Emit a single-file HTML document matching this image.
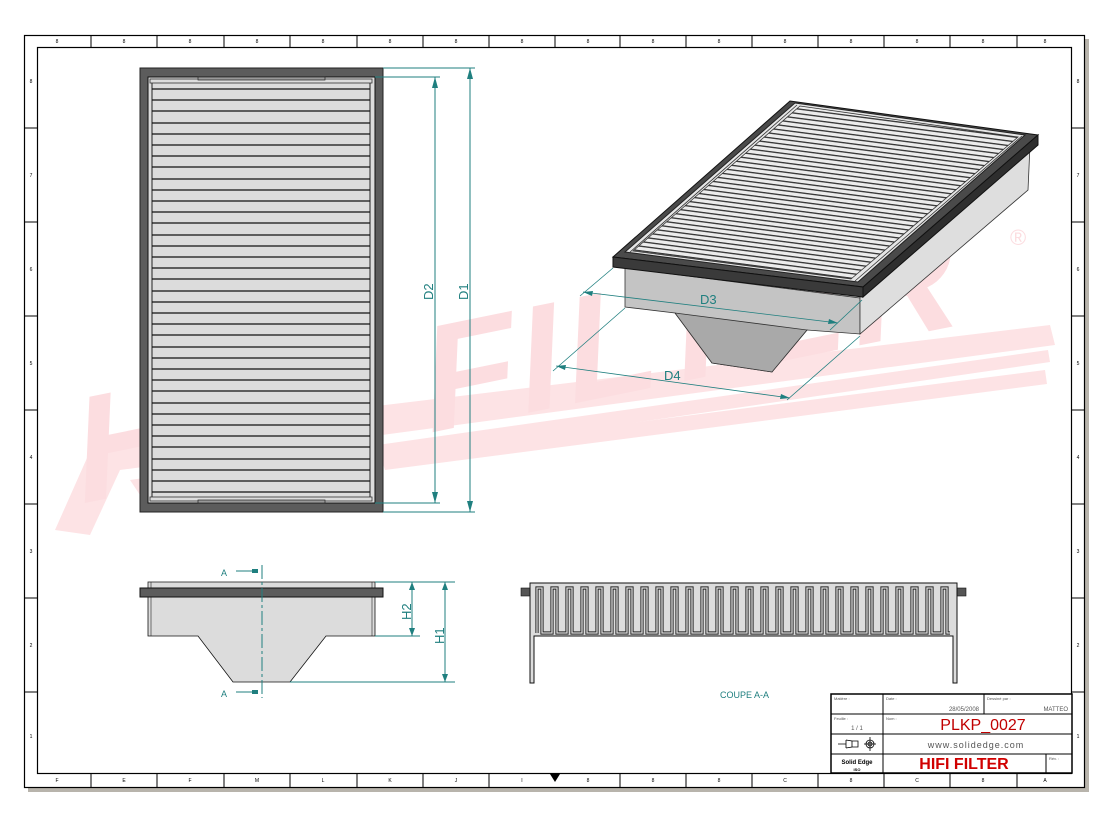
<!DOCTYPE html>
<html><head><meta charset="utf-8"><style>
html,body{margin:0;padding:0;background:#fff;}
svg{display:block;font-family:"Liberation Sans",sans-serif;}
</style></head><body>
<svg width="1112" height="821" viewBox="0 0 1112 821" xmlns="http://www.w3.org/2000/svg">
<defs>
<pattern id="sl" width="40" height="4.6" patternUnits="userSpaceOnUse" patternTransform="rotate(7.4)">
<rect width="40" height="4.6" fill="#ececec"/><rect y="0" width="40" height="1.3" fill="#333"/>
</pattern>
<clipPath id="gc"><polygon points="633,251 800,106 1018,137 851,279"/></clipPath>
</defs>
<rect width="1112" height="821" fill="#fff"/>
<!-- shadow -->
<rect x="28" y="788" width="1061" height="4" fill="#b8b4ac"/>
<rect x="1085" y="39" width="4" height="753" fill="#b8b4ac"/>
<!-- watermark -->
<g fill="#fde3e5">
<polygon points="55,530 95,440 1050,325 1055,345 120,470 90,535"/>
<polygon points="130,480 1048,350 1050,362 140,495"/>
<polygon points="380,455 1045,370 1047,384 385,470"/>
</g>
<text transform="translate(75,505) rotate(-11.5) skewX(-14)" font-size="150" font-weight="bold" fill="#fcdde0" letter-spacing="6">HIFI FILTER</text>
<text x="1010" y="245" font-size="22" fill="#fcdde0">®</text>
<!-- border -->
<rect x="24.5" y="35.5" width="1060" height="752" fill="none" stroke="#000" stroke-width="1.2"/>
<rect x="37.5" y="47.5" width="1034" height="726" fill="none" stroke="#000" stroke-width="1.2"/>
<g stroke="#000" stroke-width="1">
<line x1="91" y1="35" x2="91" y2="47"/><line x1="157" y1="35" x2="157" y2="47"/><line x1="224" y1="35" x2="224" y2="47"/><line x1="290" y1="35" x2="290" y2="47"/><line x1="357" y1="35" x2="357" y2="47"/><line x1="423" y1="35" x2="423" y2="47"/><line x1="489" y1="35" x2="489" y2="47"/><line x1="555" y1="35" x2="555" y2="47"/><line x1="620" y1="35" x2="620" y2="47"/><line x1="686" y1="35" x2="686" y2="47"/><line x1="752" y1="35" x2="752" y2="47"/><line x1="818" y1="35" x2="818" y2="47"/><line x1="884" y1="35" x2="884" y2="47"/><line x1="950" y1="35" x2="950" y2="47"/><line x1="1017" y1="35" x2="1017" y2="47"/>
<line x1="91" y1="774" x2="91" y2="788"/><line x1="157" y1="774" x2="157" y2="788"/><line x1="224" y1="774" x2="224" y2="788"/><line x1="290" y1="774" x2="290" y2="788"/><line x1="357" y1="774" x2="357" y2="788"/><line x1="423" y1="774" x2="423" y2="788"/><line x1="489" y1="774" x2="489" y2="788"/><line x1="620" y1="774" x2="620" y2="788"/><line x1="686" y1="774" x2="686" y2="788"/><line x1="752" y1="774" x2="752" y2="788"/><line x1="818" y1="774" x2="818" y2="788"/><line x1="884" y1="774" x2="884" y2="788"/><line x1="950" y1="774" x2="950" y2="788"/><line x1="1017" y1="774" x2="1017" y2="788"/>
<line x1="24" y1="128" x2="37" y2="128"/><line x1="24" y1="222" x2="37" y2="222"/><line x1="24" y1="316" x2="37" y2="316"/><line x1="24" y1="410" x2="37" y2="410"/><line x1="24" y1="504" x2="37" y2="504"/><line x1="24" y1="598" x2="37" y2="598"/><line x1="24" y1="692" x2="37" y2="692"/>
<line x1="1072" y1="128" x2="1085" y2="128"/><line x1="1072" y1="222" x2="1085" y2="222"/><line x1="1072" y1="316" x2="1085" y2="316"/><line x1="1072" y1="410" x2="1085" y2="410"/><line x1="1072" y1="504" x2="1085" y2="504"/><line x1="1072" y1="598" x2="1085" y2="598"/><line x1="1072" y1="692" x2="1085" y2="692"/>
</g>
<polygon points="550,774 560,774 555,782" fill="#000"/>
<g font-size="5" fill="#000" text-anchor="middle">
<text x="57" y="43">8</text><text x="124" y="43">8</text><text x="190" y="43">8</text><text x="257" y="43">8</text><text x="323" y="43">8</text><text x="390" y="43">8</text><text x="456" y="43">8</text><text x="522" y="43">8</text><text x="588" y="43">8</text><text x="653" y="43">8</text><text x="719" y="43">8</text><text x="785" y="43">8</text><text x="851" y="43">8</text><text x="917" y="43">8</text><text x="983" y="43">8</text><text x="1045" y="43">8</text>
<text x="57" y="782">F</text><text x="124" y="782">E</text><text x="190" y="782">F</text><text x="257" y="782">M</text><text x="323" y="782">L</text><text x="390" y="782">K</text><text x="456" y="782">J</text><text x="522" y="782">I</text><text x="588" y="782">8</text><text x="653" y="782">8</text><text x="719" y="782">8</text><text x="785" y="782">C</text><text x="851" y="782">8</text><text x="917" y="782">C</text><text x="983" y="782">8</text><text x="1045" y="782">A</text>
<text x="31" y="83">8</text><text x="31" y="177">7</text><text x="31" y="271">6</text><text x="31" y="365">5</text><text x="31" y="459">4</text><text x="31" y="553">3</text><text x="31" y="647">2</text><text x="31" y="738">1</text>
<text x="1078" y="83">8</text><text x="1078" y="177">7</text><text x="1078" y="271">6</text><text x="1078" y="365">5</text><text x="1078" y="459">4</text><text x="1078" y="553">3</text><text x="1078" y="647">2</text><text x="1078" y="738">1</text>
</g>

<!-- left top view -->
<rect x="140" y="68" width="243" height="444" fill="#5c5c5c" stroke="#222"/>
<rect x="148" y="77" width="227" height="426" fill="#dcdcdc" stroke="#111"/>
<rect x="150" y="79" width="222" height="4" fill="none" stroke="#333" stroke-width="0.8"/>
<rect x="150" y="497" width="222" height="4" fill="none" stroke="#333" stroke-width="0.8"/>
<rect x="198" y="77" width="127" height="3" fill="#999" stroke="#222" stroke-width="0.7"/>
<rect x="198" y="500" width="127" height="3" fill="#999" stroke="#222" stroke-width="0.7"/>
<line x1="152" y1="83" x2="152" y2="497" stroke="#222"/><line x1="370" y1="83" x2="370" y2="497" stroke="#222"/>
<g stroke="#111" stroke-width="1.3">
<line x1="152" x2="370" y1="89" y2="89"/><line x1="152" x2="370" y1="100" y2="100"/><line x1="152" x2="370" y1="111" y2="111"/><line x1="152" x2="370" y1="123" y2="123"/><line x1="152" x2="370" y1="134" y2="134"/><line x1="152" x2="370" y1="145" y2="145"/><line x1="152" x2="370" y1="156" y2="156"/><line x1="152" x2="370" y1="167" y2="167"/><line x1="152" x2="370" y1="179" y2="179"/><line x1="152" x2="370" y1="190" y2="190"/><line x1="152" x2="370" y1="201" y2="201"/><line x1="152" x2="370" y1="212" y2="212"/><line x1="152" x2="370" y1="223" y2="223"/><line x1="152" x2="370" y1="235" y2="235"/><line x1="152" x2="370" y1="246" y2="246"/><line x1="152" x2="370" y1="257" y2="257"/><line x1="152" x2="370" y1="268" y2="268"/><line x1="152" x2="370" y1="279" y2="279"/><line x1="152" x2="370" y1="291" y2="291"/><line x1="152" x2="370" y1="302" y2="302"/><line x1="152" x2="370" y1="313" y2="313"/><line x1="152" x2="370" y1="324" y2="324"/><line x1="152" x2="370" y1="335" y2="335"/><line x1="152" x2="370" y1="347" y2="347"/><line x1="152" x2="370" y1="358" y2="358"/><line x1="152" x2="370" y1="369" y2="369"/><line x1="152" x2="370" y1="380" y2="380"/><line x1="152" x2="370" y1="391" y2="391"/><line x1="152" x2="370" y1="403" y2="403"/><line x1="152" x2="370" y1="414" y2="414"/><line x1="152" x2="370" y1="425" y2="425"/><line x1="152" x2="370" y1="436" y2="436"/><line x1="152" x2="370" y1="447" y2="447"/><line x1="152" x2="370" y1="459" y2="459"/><line x1="152" x2="370" y1="470" y2="470"/><line x1="152" x2="370" y1="481" y2="481"/><line x1="152" x2="370" y1="492" y2="492"/>
</g>
<!-- D1 D2 dims -->
<g stroke="#1f7f7f" stroke-width="1" fill="none">
<line x1="383" y1="68" x2="475" y2="68"/><line x1="375" y1="77" x2="440" y2="77"/>
<line x1="375" y1="503" x2="440" y2="503"/><line x1="383" y1="512" x2="475" y2="512"/>
<line x1="435" y1="77" x2="435" y2="503"/><line x1="470" y1="68" x2="470" y2="512"/>
</g>
<g fill="#1f7f7f">
<polygon points="435,77 432,88 438,88"/><polygon points="435,503 432,492 438,492"/>
<polygon points="470,68 467,79 473,79"/><polygon points="470,512 467,501 473,501"/>
<text transform="translate(433,300) rotate(-90)" font-size="13">D2</text>
<text transform="translate(468,300) rotate(-90)" font-size="13">D1</text>
</g>

<!-- iso view -->
<polygon points="625,268 860,298 860,334 807,330 772,372 712,363 675,313 625,307" fill="#c4c4c4" stroke="#333" stroke-width="0.8"/>
<polygon points="675,313 712,363 772,372 807,330" fill="#a9a9a9" stroke="#333" stroke-width="0.8"/>
<polygon points="860,297 1030,145 1028,190 860,334" fill="#dedede" stroke="#333" stroke-width="0.8"/>
<polygon points="613,257 790,101 1038,135 863,287" fill="#4a4a4a" stroke="#111"/>
<polygon points="613,257 863,287 863,297 613,267" fill="#3a3a3a" stroke="#111"/>
<polygon points="863,287 1038,135 1038,145 863,297" fill="#2e2e2e" stroke="#111"/>
<polygon points="625,252 795,103 1025,135 858,282" fill="#e6e6e6" stroke="#222"/>
<polygon points="633,251 800,106 1018,137 851,279" fill="url(#sl)" stroke="#333" stroke-width="0.8"/>
<g stroke="#333" stroke-width="0.8" fill="none">
<line x1="629" y1="253" x2="797" y2="105"/>
<line x1="855" y1="281" x2="1022" y2="136"/>
</g>
<!-- D3 D4 -->
<g stroke="#1f7f7f" stroke-width="0.8">
<line x1="613" y1="268" x2="580" y2="296"/><line x1="862" y1="300" x2="830" y2="330"/>
<line x1="583" y1="292" x2="838" y2="323"/>
<line x1="625" y1="308" x2="553" y2="371"/><line x1="860" y1="336" x2="787" y2="400"/>
<line x1="556" y1="366" x2="790" y2="398"/>
</g>
<g fill="#1f7f7f">
<polygon points="583,292 593,291 592,296"/><polygon points="838,323 828,324 829,319"/>
<polygon points="556,366 566,365 565,370"/><polygon points="790,398 780,399 781,394"/>
<text x="700" y="304" font-size="13">D3</text>
<text x="664" y="380" font-size="13">D4</text>
</g>

<!-- front view -->
<rect x="148" y="582" width="227" height="6" fill="#dcdcdc" stroke="#222" stroke-width="0.8"/>
<polygon points="148,597 375,597 375,636 326,636 290,682 233,682 198,636 148,636" fill="#dcdcdc" stroke="#111" stroke-width="0.8"/>
<line x1="151" y1="582" x2="151" y2="636" stroke="#222" stroke-width="0.6"/><line x1="372" y1="582" x2="372" y2="636" stroke="#222" stroke-width="0.6"/>
<rect x="140" y="588" width="243" height="9" fill="#5c5c5c" stroke="#111"/>
<g stroke="#1f7f7f" stroke-width="1" fill="none">
<line x1="262" y1="565" x2="262" y2="698" stroke-dasharray="14,3,3,3"/>
<line x1="236" y1="571" x2="258" y2="571"/><line x1="236" y1="692" x2="258" y2="692"/>
<line x1="375" y1="582" x2="455" y2="582"/><line x1="375" y1="636" x2="420" y2="636"/><line x1="290" y1="682" x2="455" y2="682"/>
<line x1="412" y1="582" x2="412" y2="636"/><line x1="445" y1="582" x2="445" y2="682"/>
</g>
<g fill="#1f7f7f">
<rect x="252" y="569" width="6" height="4"/><rect x="252" y="690" width="6" height="4"/>
<text x="221" y="576" font-size="9">A</text><text x="221" y="697" font-size="9">A</text>
<polygon points="412,582 409,590 415,590"/><polygon points="412,636 409,628 415,628"/>
<polygon points="445,582 442,590 448,590"/><polygon points="445,682 442,674 448,674"/>
<text transform="translate(411,620) rotate(-90)" font-size="13">H2</text>
<text transform="translate(444,644) rotate(-90)" font-size="13">H1</text>
</g>

<!-- section view -->
<rect x="521" y="588" width="9" height="8" fill="#555" stroke="#111" stroke-width="0.6"/>
<rect x="957" y="588" width="9" height="8" fill="#555" stroke="#111" stroke-width="0.6"/>
<path d="M530,583 H957 V683 H953 V636 H534 V683 H530 Z" fill="#dcdcdc" stroke="#111"/>
<path id="pl" d="M537,633 V588 H542 V633 H552 V588 H557 V633 H567 V588 H572 V633 H582 V588 H587 V633 H597 V588 H602 V633 H612 V588 H617 V633 H627 V588 H632 V633 H642 V588 H647 V633 H657 V588 H662 V633 H672 V588 H677 V633 H687 V588 H692 V633 H702 V588 H707 V633 H717 V588 H722 V633 H732 V588 H737 V633 H747 V588 H752 V633 H762 V588 H767 V633 H777 V588 H782 V633 H792 V588 H797 V633 H807 V588 H812 V633 H822 V588 H827 V633 H837 V588 H842 V633 H852 V588 H857 V633 H867 V588 H872 V633 H882 V588 H887 V633 H897 V588 H902 V633 H912 V588 H917 V633 H927 V588 H932 V633 H942 V588 H947 V633 H950" fill="none" stroke="#222" stroke-width="3.2"/>
<path d="M537,633 V588 H542 V633 H552 V588 H557 V633 H567 V588 H572 V633 H582 V588 H587 V633 H597 V588 H602 V633 H612 V588 H617 V633 H627 V588 H632 V633 H642 V588 H647 V633 H657 V588 H662 V633 H672 V588 H677 V633 H687 V588 H692 V633 H702 V588 H707 V633 H717 V588 H722 V633 H732 V588 H737 V633 H747 V588 H752 V633 H762 V588 H767 V633 H777 V588 H782 V633 H792 V588 H797 V633 H807 V588 H812 V633 H822 V588 H827 V633 H837 V588 H842 V633 H852 V588 H857 V633 H867 V588 H872 V633 H882 V588 H887 V633 H897 V588 H902 V633 H912 V588 H917 V633 H927 V588 H932 V633 H942 V588 H947 V633 H950" fill="none" stroke="#dcdcdc" stroke-width="1.3"/>
<text x="720" y="698" font-size="9" fill="#1f7f7f">COUPE A-A</text>

<!-- title block -->
<rect x="831" y="694" width="241" height="79" fill="#fff" stroke="#000" stroke-width="1.5"/>
<g stroke="#000" stroke-width="1">
<line x1="831" y1="714" x2="1072" y2="714"/><line x1="831" y1="734" x2="1072" y2="734"/><line x1="831" y1="754" x2="1072" y2="754"/>
<line x1="883" y1="694" x2="883" y2="773"/><line x1="984" y1="694" x2="984" y2="714"/><line x1="1046" y1="754" x2="1046" y2="773"/>
</g>
<g font-size="4" fill="#555">
<text x="834" y="700">Matière :</text><text x="886" y="700">Date :</text><text x="987" y="700">Dessiné par :</text>
<text x="834" y="720">Feuille :</text><text x="886" y="720">Nom :</text><text x="1049" y="760">Rév. :</text>
</g>
<text x="979" y="711" font-size="6" fill="#555" text-anchor="end">28/05/2008</text>
<text x="1068" y="711" font-size="6" fill="#555" text-anchor="end">MATTEO</text>
<text x="857" y="730" font-size="6" fill="#555" text-anchor="middle">1 / 1</text>
<text x="983" y="730" font-size="16" fill="#c00000" text-anchor="middle">PLKP_0027</text>
<text x="976" y="748" font-size="9" fill="#555" text-anchor="middle" letter-spacing="1">www.solidedge.com</text>
<text x="964" y="769" font-size="16" font-weight="bold" fill="#d00000" text-anchor="middle">HIFI FILTER</text>
<text x="857" y="764" font-size="6" font-weight="bold" text-anchor="middle">Solid Edge</text>
<text x="857" y="771" font-size="4" font-weight="bold" text-anchor="middle">ISO</text>
<g stroke="#000" stroke-width="0.8" fill="none">
<path d="M838,744 H846 M846,740 V748 M846,740 L852,741 V747 L846,748 M852,741 H858 V747 H852"/>
<circle cx="870" cy="744" r="4"/><circle cx="870" cy="744" r="2"/><line x1="864" y1="744" x2="876" y2="744"/><line x1="870" y1="737" x2="870" y2="751"/>
</g>
</svg>
</body></html>
